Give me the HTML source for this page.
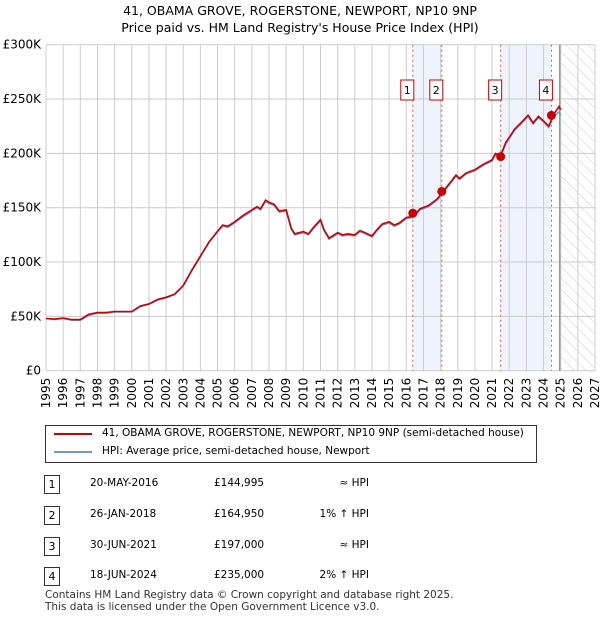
<!DOCTYPE html>
<html><head><meta charset="utf-8"><style>
body{margin:0;background:#fff;font-family:"DejaVu Sans","Liberation Sans",sans-serif;}
#wrap{position:relative;width:600px;height:620px;overflow:hidden}
.t{position:absolute;font-size:12px;color:#000}
svg text{font-family:"DejaVu Sans","Liberation Sans",sans-serif}
</style></head><body><div id="wrap">
<div class="t" style="left:0;width:600px;top:2px;text-align:center;font-size:12.5px;line-height:17px">41, OBAMA GROVE, ROGERSTONE, NEWPORT, NP10 9NP<br>Price paid vs. HM Land Registry's House Price Index (HPI)</div>
<svg id="c" width="600" height="420" style="position:absolute;left:0;top:0"></svg>
<div style="position:absolute;left:45px;top:425px;width:490px;height:36px;border:1px solid #333;font-size:10.5px">
<div style="position:absolute;left:8px;top:7px;width:38px;height:2px;background:#cc0000"></div><div style="position:absolute;left:56px;top:1px">41, OBAMA GROVE, ROGERSTONE, NEWPORT, NP10 9NP (semi-detached house)</div>
<div style="position:absolute;left:8px;top:25px;width:38px;height:2px;background:#6a9bd8"></div><div style="position:absolute;left:56px;top:19px">HPI: Average price, semi-detached house, Newport</div>
</div>
<div id="tbl"></div>
<div class="t" style="left:45px;top:589px;font-size:10.5px;line-height:12px;color:#333">Contains HM Land Registry data © Crown copyright and database right 2025.<br>This data is licensed under the Open Government Licence v3.0.</div>
</div>
<script>
const hpiYears=[1995,1995.5,1996,1996.5,1997,1997.5,1998,1998.5,1999,1999.5,2000,2000.5,2001,2001.5,2002,2002.5,2003,2003.5,2004,2004.5,2005,2005.3,2005.6,2006,2006.5,2007,2007.3,2007.5,2007.8,2008,2008.3,2008.6,2009,2009.3,2009.5,2010,2010.3,2010.6,2011,2011.2,2011.5,2012,2012.3,2012.6,2013,2013.3,2013.6,2014,2014.3,2014.6,2015,2015.3,2015.6,2016,2016.4,2016.8,2017.3,2017.8,2018.1,2018.5,2018.9,2019.1,2019.5,2020,2020.5,2021,2021.2,2021.5,2021.8,2022.3,2022.8,2023.1,2023.4,2023.7,2024,2024.3,2024.6,2024.9,2025];
const hpiValues=[48,47,48,46.5,46.5,51,53,53,54,54,54,59,61,65,67,70,78,92,105,118,128,133,132,136,142,147,150,148,156,154,152,146,147,130,125,127,125,131,138,129,121,126,124,125,124,128,126,123,129,134,136,133,135,140,141,148,151,157,163,171,179,176,181,184,189,193,199,197,209,221,229,234,227,233,229,224,234,238,235];
const ppdValues=[48,47.5,48.5,47,47,52,53.5,53.5,54.5,54.5,54.5,59.5,61.5,65.5,67.5,70.5,78.5,92.5,105.5,118.5,128.5,134,133,137,143,148,151,149,157,155,153,147,148,131,126,128,126,132,139,130,122,127,125,126,125,129,127,124,130,135,137,134,136,141,142,149,152,158,164,172,180,177,182,185,190,194,200,198,210,222,230,235,228,234,230,225,236,243,240];
const saleYears=[2016.38,2018.07,2021.5,2024.46];
const saleValues=[144995,164950,197000,235000];
const saleDates=["20-MAY-2016","26-JAN-2018","30-JUN-2021","18-JUN-2024"];
const salePrices=["£144,995","£164,950","£197,000","£235,000"];
const saleHpi=["≈ HPI","1% ↑ HPI","≈ HPI","2% ↑ HPI"];
const yTicks=[0,50000,100000,150000,200000,250000,300000];
const yTickLabels=["£0","£50K","£100K","£150K","£200K","£250K","£300K"];
const xTicks=[];for(let y=1995;y<=2027;y++)xTicks.push(y);

const svg=document.getElementById('c');const NS='http://www.w3.org/2000/svg';
const X=y=>46+(y-1995)*(595-46)/32;
const Y=v=>370.7-v/300000*326;
function mk(t,a,p){const e=document.createElementNS(NS,t);for(const k in a)e.setAttribute(k,a[k]);(p||svg).appendChild(e);return e;}
const defs=mk('defs',{});
const pat=mk('pattern',{id:'h',width:8,height:8,patternUnits:'userSpaceOnUse',patternTransform:'rotate(-45)'},defs);
mk('line',{x1:0,y1:0,x2:0,y2:8,stroke:'#ccc','stroke-width':1},pat);
let r=mk('rect',{x:X(saleYears[0]),y:Y(300000),width:X(saleYears[1])-X(saleYears[0]),height:Y(0)-Y(300000),fill:'#eef3fc'});

r=mk('rect',{x:X(saleYears[2]),y:Y(300000),width:X(saleYears[3])-X(saleYears[2]),height:Y(0)-Y(300000),fill:'#eef3fc'});

r=mk('rect',{x:X(2025),y:Y(300000),width:X(2027)-X(2025),height:Y(0)-Y(300000),fill:'url(#h)'});

xTicks.forEach(t=>{const l=mk('line',{x1:X(t),x2:X(t),y1:Y(300000),y2:Y(0),stroke:'#ccc'});
const tx=mk('text',{x:0,y:0,'font-size':12,'text-anchor':'end',transform:`translate(${X(t)+4},${Y(0)+7}) rotate(-90)`});tx.textContent=t;});
yTicks.forEach((t,i)=>{const l=mk('line',{x1:X(1995),x2:X(2027),y1:Y(t),y2:Y(t),stroke:'#ccc'});
const tx=mk('text',{x:X(1995)-5,y:Y(t)+4,'font-size':12,'text-anchor':'end'});tx.textContent=yTickLabels[i];});
let l=mk('line',{x1:X(2025)-1,x2:X(2025)-1,y1:Y(300000),y2:Y(0),stroke:'#999','stroke-width':1.5});
saleYears.forEach((s,i)=>{const d=mk('line',{x1:X(s),x2:X(s),y1:Y(300000),y2:Y(0),stroke:'#e55','stroke-dasharray':'2,3'});
const b=mk('rect',{x:X(s)-12,y:80,width:13,height:20,fill:'#fff',stroke:'#cc0000'});
const t=mk('text',{x:X(s)-5.5,y:94,'font-size':11,'text-anchor':'middle'});t.textContent=i+1;});
function line(vals,col,name){let p=hpiYears.map((y,i)=>(i?'L':'M')+X(y).toFixed(1)+','+Y(vals[i]*1000).toFixed(1)).join('');const e=mk('path',{d:p,fill:'none',stroke:col,'stroke-width':1.6});}
line(hpiValues,'#6a9bd8','hpi-line');line(ppdValues,'#cc0000','price-paid-line');
saleYears.forEach((s,i)=>{const c=mk('circle',{cx:X(s),cy:Y(saleValues[i]),r:4.5,fill:'#cc0000'});});
const tbl=document.getElementById('tbl');const rowsY=[475,506,537,567];
saleDates.forEach((d,i)=>{const y=rowsY[i];
tbl.insertAdjacentHTML('beforeend',`<div style="position:absolute;left:44px;top:${y}px;width:14px;height:17px;border:1px solid #333;font-size:11px;text-align:center;line-height:17px">${i+1}</div>
<div class="t" style="left:90px;top:${y+2}px;font-size:10.5px">${d}</div>
<div class="t" style="left:214px;top:${y+2}px;font-size:10.5px">${salePrices[i]}</div>
<div class="t" style="left:280px;width:89px;text-align:right;top:${y+2}px;font-size:10.5px">${saleHpi[i]}</div>`);});
</script></body></html>
